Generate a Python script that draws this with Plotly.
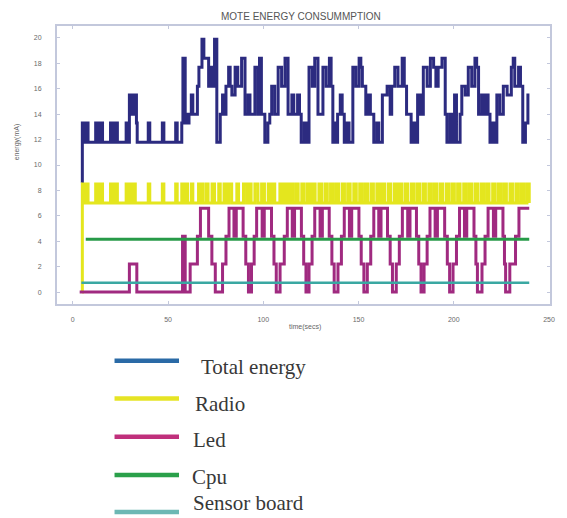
import plotly.graph_objects as go

# ---------------- data ----------------
x_ticks = [0, 50, 100, 150, 200, 250]
y_ticks = [0, 2, 4, 6, 8, 10, 12, 14, 16, 18, 20]

# Radio: starts from 0 at t~5 then low/high pulses
radio_start_t, radio_start_v = 4.95, 0.0
radio_low, radio_high = 7.0, 8.5
radio_on = [5.0, 7.1, 12.0, 14.2, 19.8, 22.0, 28.0, 29.8, 31.6, 39.6, 47.0, 54.0,
            57.2, 58.9, 62.2, 66.0, 67.6, 70.0, 73.1, 76.6, 79.4, 81.8, 86.1, 89.6,
            92.6, 95.6, 99.1, 102.6, 104.8, 108.7, 111.6, 113.9, 117.0, 120.2, 123.1,
            126.0, 129.2, 132.4, 135.3, 138.2, 141.4, 144.3, 147.5, 150.6, 153.4,
            156.5, 159.6, 162.4, 165.6, 168.7, 171.5, 174.6, 177.8, 180.7, 183.8,
            186.9, 189.7, 192.8, 196.0, 199.0, 202.0, 205.2, 208.1, 211.2, 214.3,
            217.2, 220.4, 223.4, 226.3, 229.5, 232.6, 235.5, 238.4]
radio_off = [5.9, 8.0, 13.0, 15.6, 20.6, 23.4, 29.2, 31.0, 32.8, 40.4, 47.8, 54.8,
             58.4, 60.2, 63.0, 67.1, 68.3, 71.0, 74.4, 77.4, 80.4, 83.4, 87.0, 91.2,
             93.6, 97.2, 100.6, 103.8, 106.0, 110.2, 112.8, 115.4, 118.3, 121.4, 124.5,
             127.2, 130.6, 133.6, 136.6, 139.5, 142.6, 145.6, 148.8, 151.8, 154.7,
             157.8, 160.9, 163.7, 166.8, 170.0, 172.8, 175.9, 179.0, 182.0, 185.1,
             188.1, 191.0, 194.1, 197.3, 200.3, 203.3, 206.5, 209.4, 212.5, 215.6,
             218.5, 221.7, 224.7, 227.6, 230.8, 233.9, 236.8, 239.6]

led_t = [3.6, 29.7, 33.6, 57.6, 59.0, 61.6, 65.4, 67.0, 71.3, 73.0, 74.8, 78.6,
         80.4, 82.0, 84.6, 85.8, 89.4, 90.8, 92.2, 93.8, 95.2, 96.5, 99.4, 100.5,
         104.3, 105.6, 106.8, 108.8, 111.0, 112.6, 115.2, 116.4, 120.0, 121.2, 122.4,
         124.0, 125.6, 127.0, 129.8, 131.0, 134.6, 136.0, 137.2, 139.2, 141.0, 142.5,
         145.2, 146.4, 150.2, 151.4, 152.8, 154.6, 156.4, 158.0, 160.6, 161.8, 165.2,
         166.6, 167.8, 169.8, 171.4, 173.0, 175.8, 177.0, 180.4, 181.6, 182.8, 184.4,
         186.0, 187.5, 190.2, 191.4, 195.2, 196.6, 197.8, 199.6, 201.4, 203.0, 205.6,
         206.8, 210.6, 211.6, 212.4, 214.8, 216.4, 218.0, 220.8, 222.0, 225.8, 226.6,
         227.2, 229.4, 232.4, 234.2, 239.6]
led_v = [0, 2.2, 0, 4.4, 0, 2.2, 4.4, 6.6, 4.4, 2.2, 0, 2.2,
         4.4, 6.6, 4.4, 6.6, 4.4, 2.2, 0, 2.2, 4.4, 6.6, 4.4, 6.6,
         4.4, 2.2, 0, 2.2, 4.4, 6.6, 4.4, 6.6, 4.4, 2.2, 0,
         2.2, 4.4, 6.6, 4.4, 6.6, 4.4, 2.2, 0, 2.2, 4.4, 6.6,
         4.4, 6.6, 4.4, 2.2, 0, 2.2, 4.4, 6.6, 4.4, 6.6, 4.4,
         2.2, 0, 2.2, 4.4, 6.6, 4.4, 6.6, 4.4, 2.2, 0, 2.2,
         4.4, 6.6, 4.4, 6.6, 4.4, 2.2, 0, 2.2, 4.4, 6.6, 4.4,
         6.6, 4.4, 2.2, 0, 2.2, 4.4, 6.6, 4.4, 6.6, 4.4, 2.2,
         0, 2.2, 4.4, 6.6, 6.6]

total_t = [4.9, 5.0, 5.9, 7.1, 8.0, 12.0, 13.0, 14.2, 15.6, 19.8, 20.6, 22.0, 23.4,
           28.0, 29.0, 29.7, 30.4, 31.0, 32.0, 32.6, 33.4, 33.8, 39.6, 40.4, 47.0,
           47.8, 54.0, 54.8, 57.2, 57.8, 59.0, 59.6, 60.4, 61.0, 62.2, 63.0, 65.4,
           66.2, 67.8, 68.8, 71.3, 72.4, 73.0, 74.4, 75.6, 77.4, 78.6, 79.6, 80.4,
           81.8, 82.6, 83.5, 85.2, 86.6, 88.6, 90.4, 92.0, 93.0, 95.6, 97.2, 98.0,
           99.0, 100.8, 102.4, 103.4, 104.4, 106.0, 107.8, 109.6, 111.4, 113.0, 115.0,
           116.0, 118.0, 119.0, 119.9, 121.5, 122.5, 124.0, 125.7, 127.0, 128.7, 131.3,
           133.0, 134.7, 135.6, 136.5, 137.6, 138.4, 139.0, 140.4, 141.4, 142.5, 144.0,
           145.0, 147.0, 148.6, 150.3, 151.2, 152.0, 153.8, 155.2, 156.2, 158.0, 159.6,
           160.6, 162.5, 165.0, 166.6, 167.4, 169.0, 170.7, 172.9, 174.0, 175.2, 177.6,
           179.0, 180.0, 181.0, 182.5, 184.0, 186.0, 187.7, 189.4, 190.6, 191.8, 193.8,
           195.5, 196.4, 198.0, 199.2, 200.4, 201.4, 203.3, 204.2, 206.0, 207.6, 209.4,
           211.1, 212.0, 213.0, 214.6, 215.6, 217.0, 218.0, 219.0, 220.4, 221.4, 222.6,
           224.2, 226.0, 228.0, 230.2, 231.2, 232.0, 234.0, 235.0, 236.2, 237.6, 238.9,
           239.7]
total_v = [8.6, 13.3, 11.8, 13.3, 11.8, 13.3, 11.8, 13.3, 11.8, 13.3, 11.8, 13.3, 11.8,
           13.3, 11.8, 15.5, 14.0, 15.5, 14.0, 15.5, 13.3, 11.8, 13.3, 11.8, 13.3,
           11.8, 13.3, 11.8, 13.3, 18.4, 13.3, 14.0, 13.3, 14.0, 15.5, 14.0, 16.2,
           17.7, 19.9, 18.4, 16.2, 17.7, 16.2, 19.9, 11.8, 14.0, 15.5, 14.0, 16.2,
           17.7, 16.2, 15.5, 17.7, 16.2, 18.4, 14.0, 15.5, 14.0, 17.7, 14.0, 18.4,
           14.0, 11.8, 13.3, 14.0, 16.2, 14.0, 17.7, 16.2, 18.4, 14.0, 15.5,
           14.0, 15.5, 14.0, 11.8, 13.3, 11.8, 17.7, 16.2, 18.4, 14.0, 17.7,
           16.2, 18.4, 16.2, 11.8, 13.3, 11.8, 14.0, 15.5, 14.0, 11.8, 13.3,
           11.8, 17.7, 16.2, 18.4, 17.7, 16.2, 14.0, 15.5, 14.0, 11.8, 13.3,
           11.8, 15.5, 16.2, 14.0, 16.2, 17.7, 16.2, 18.4, 16.2, 14.0, 11.8,
           13.3, 11.8, 15.5, 14.0, 17.7, 16.2, 18.4, 17.7, 16.2, 17.7, 18.4,
           14.0, 11.8, 14.0, 11.8, 15.5, 11.8, 14.0, 16.2, 15.5, 17.7, 16.2,
           18.4, 17.7, 14.0, 15.5, 14.0, 15.5, 14.0, 11.8, 13.3, 11.8, 15.5,
           14.0, 16.2, 15.5, 17.7, 18.4, 16.2, 17.7, 16.2, 11.8, 13.3, 15.5,
           15.5]

cpu_t = [6.8, 239.6]
cpu_v = [4.15, 4.15]
sensor_t = [4.5, 239.6]
sensor_v = [0.73, 0.73]

legend_names = ["Total energy", "Radio", "Led", "Cpu", "Sensor board"]
legend_colors = ["#2a6aa6", "#e6e424", "#c0307c", "#2aa04a", "#6cb8b4"]
trace_colors = {"total": "#2c2b80", "radio": "#e4e61e", "led": "#a02a80",
                "cpu": "#279a48", "sensor": "#3aa8a2"}

# ---------------- build step series ----------------
radio_t = [radio_start_t]
radio_v = [radio_start_v]
for on, off in zip(radio_on, radio_off):
    radio_t += [on, off]
    radio_v += [radio_high, radio_low]

W, H = 567, 518
L, R, T, B = 57, 554, 26, 304

fig = go.Figure()

def add(tx, vy, color, width):
    fig.add_trace(go.Scatter(x=tx, y=vy, mode="lines", line=dict(color=color, width=width, shape="hv"),
                             showlegend=False, hoverinfo="skip"))

add(total_t, total_v, trace_colors["total"], 3)
add(radio_t, radio_v, trace_colors["radio"], 3)
add(led_t, led_v, trace_colors["led"], 3)
add(cpu_t, cpu_v, trace_colors["cpu"], 3)
add(sensor_t, sensor_v, trace_colors["sensor"], 2.5)

def px_x(px):
    return (px - L) / (R - L)

def px_y(py):
    return (B - py) / (B - T)

# manual legend
leg_line_y = [360.7, 398.5, 436.7, 475.0, 512.0]
leg_text_y = [366.5, 403.5, 440.0, 476.5, 503.0]
leg_text_x = [200, 194, 192, 191, 192]
for name, col, ly, ty, tx in zip(legend_names, legend_colors, leg_line_y, leg_text_y, leg_text_x):
    fig.add_shape(type="line", xref="paper", yref="paper",
                  x0=px_x(115), x1=px_x(180), y0=px_y(ly), y1=px_y(ly),
                  line=dict(color=col, width=4.5))
    fig.add_annotation(xref="paper", yref="paper", x=px_x(tx), y=px_y(ty),
                       xanchor="left", yanchor="middle", showarrow=False, text=name,
                       font=dict(family="Liberation Serif", size=21, color="#383838"))

# title and axis labels
fig.add_annotation(xref="paper", yref="paper", x=px_x(302.5), y=px_y(17), xanchor="center",
                   yanchor="middle", showarrow=False, text="MOTE ENERGY CONSUMMPTION",
                   font=dict(family="Liberation Sans", size=10, color="#555555"))
fig.add_annotation(xref="paper", yref="paper", x=px_x(307), y=px_y(327), xanchor="center",
                   yanchor="middle", showarrow=False, text="time(secs)",
                   font=dict(family="Liberation Sans", size=7, color="#666666"))
fig.add_annotation(xref="paper", yref="paper", x=px_x(17), y=px_y(142), xanchor="center",
                   yanchor="middle", showarrow=False, text="energy(mA)", textangle=-90,
                   font=dict(family="Liberation Sans", size=7, color="#666666"))

axis_common = dict(showgrid=False, zeroline=False, showline=True, mirror="ticks",
                   linecolor="#c3c8dc", linewidth=2, ticks="inside", ticklen=3,
                   tickcolor="#c3c8dc", tickwidth=1,
                   tickfont=dict(family="Liberation Sans", size=7, color="#6a6a6a"))

fig.update_layout(
    width=W, height=H,
    margin=dict(l=L, r=W - R, t=T, b=H - B, pad=0),
    plot_bgcolor="white", paper_bgcolor="white",
    xaxis=dict(range=[-8.3, 250.5], tickvals=x_ticks, ticklabelstandoff=8, **axis_common),
    yaxis=dict(range=[-0.94, 20.94], tickvals=y_ticks, ticklabelstandoff=12, **axis_common),
)

fig.write_html("out.html")
